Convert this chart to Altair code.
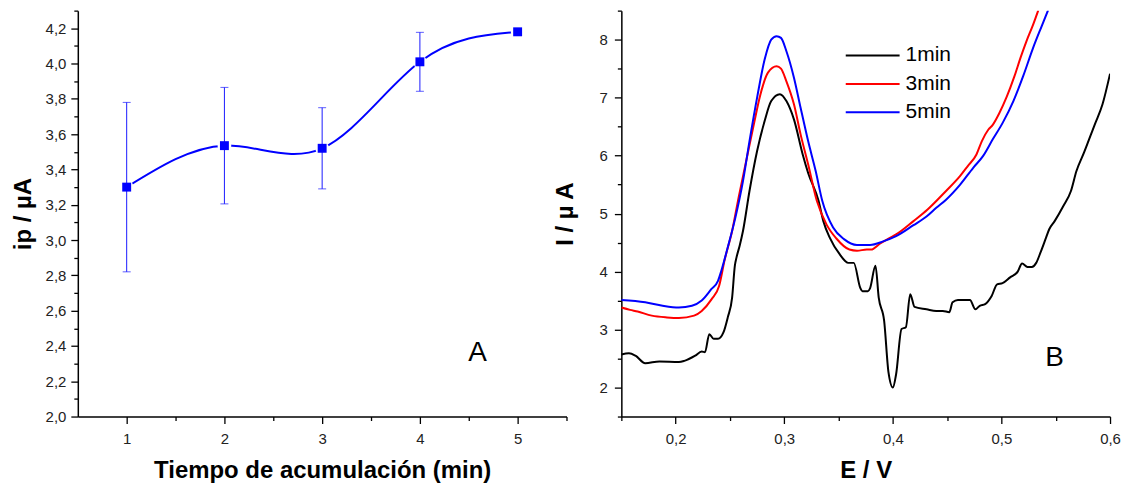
import altair as alt
import pandas as pd

FONT = "Liberation Sans"

# ---------------- Panel A data ----------------
t_min = [1, 2, 3, 4, 5]
ip_uA = [3.30, 3.535, 3.52, 4.01, 4.18]
ip_err = [0.48, 0.33, 0.23, 0.167, 0.0]

# ---------------- Panel B data ----------------
E_1min = [0.150, 0.157, 0.163, 0.172, 0.185, 0.203, 0.208, 0.218, 0.224, 0.227,
          0.231, 0.235, 0.239, 0.244, 0.248, 0.252, 0.2545, 0.256, 0.259, 0.262,
          0.268, 0.275, 0.282, 0.288, 0.296, 0.302, 0.309, 0.317, 0.322, 0.3316,
          0.336, 0.342, 0.351, 0.359, 0.364, 0.370, 0.372, 0.377, 0.379, 0.384,
          0.387, 0.392, 0.396, 0.400, 0.403, 0.408, 0.412, 0.416, 0.420, 0.431,
          0.440, 0.446, 0.452, 0.455, 0.460, 0.471, 0.476, 0.480, 0.485, 0.491,
          0.496, 0.501, 0.508, 0.515, 0.519, 0.524, 0.528, 0.532, 0.536, 0.541,
          0.544, 0.549, 0.557, 0.564, 0.569, 0.576, 0.586, 0.593, 0.600]
I_1min = [2.57, 2.59, 2.55, 2.42, 2.45, 2.44, 2.46, 2.55, 2.62, 2.61,
          2.92, 2.84, 2.84, 2.95, 3.21, 3.55, 4.10, 4.24, 4.45, 4.70,
          5.39, 6.08, 6.60, 6.94, 7.06, 6.94, 6.62, 6.02, 5.70, 5.22,
          4.87, 4.58, 4.30, 4.15, 4.15, 3.72, 3.66, 3.66, 3.71, 4.10,
          3.55, 3.15, 2.26, 2.00, 2.23, 3.01, 3.04, 3.61, 3.39, 3.35,
          3.32, 3.32, 3.30, 3.47, 3.51, 3.51, 3.35, 3.41, 3.44, 3.58,
          3.78, 3.80, 3.90, 4.00, 4.14, 4.08, 4.08, 4.15, 4.33, 4.58,
          4.73, 4.87, 5.13, 5.39, 5.73, 6.05, 6.54, 6.88, 7.41]

E_3min = [0.150, 0.158, 0.165, 0.178, 0.192, 0.203, 0.217, 0.224, 0.233, 0.240,
          0.245, 0.252, 0.258, 0.265, 0.272, 0.278, 0.285, 0.293, 0.297, 0.302,
          0.309, 0.315, 0.322, 0.330, 0.339, 0.348, 0.360, 0.367, 0.376, 0.380,
          0.388, 0.396, 0.403, 0.419, 0.432, 0.449, 0.462, 0.469, 0.477, 0.482,
          0.488, 0.492, 0.498, 0.505, 0.512, 0.518, 0.523, 0.529, 0.534]
I_3min = [3.38, 3.34, 3.31, 3.24, 3.21, 3.20, 3.24, 3.32, 3.52, 3.75,
          4.19, 4.70, 5.28, 5.91, 6.54, 7.05, 7.43, 7.54, 7.50, 7.28,
          6.88, 6.37, 5.85, 5.22, 4.81, 4.57, 4.38, 4.36, 4.38, 4.38,
          4.48, 4.57, 4.64, 4.87, 5.07, 5.39, 5.65, 5.82, 6.02, 6.25,
          6.45, 6.53, 6.73, 7.02, 7.37, 7.71, 7.97, 8.25, 8.51]

E_5min = [0.150, 0.172, 0.188, 0.203, 0.215, 0.224, 0.233, 0.239, 0.242, 0.248,
          0.255, 0.262, 0.268, 0.275, 0.282, 0.288, 0.293, 0.297, 0.302, 0.309,
          0.315, 0.322, 0.329, 0.335, 0.345, 0.355, 0.367, 0.379, 0.391, 0.403,
          0.419, 0.431, 0.440, 0.449, 0.462, 0.474, 0.483, 0.492, 0.501, 0.511,
          0.520, 0.529, 0.537, 0.543]
I_5min = [3.51, 3.47, 3.41, 3.38, 3.41, 3.50, 3.70, 3.84, 4.01, 4.42,
          4.93, 5.56, 6.25, 7.00, 7.66, 8.00, 8.06, 8.03, 7.80, 7.34,
          6.83, 6.25, 5.73, 5.22, 4.76, 4.56, 4.46, 4.46, 4.52, 4.61,
          4.80, 4.95, 5.10, 5.24, 5.50, 5.79, 5.99, 6.28, 6.56, 6.94,
          7.37, 7.85, 8.23, 8.51]

series_names = ["1min", "3min", "5min"]
series_colors = ["#000000", "#ff0000", "#0000ff"]

# panel letters (in data units of each panel)
panel_letters = ["A", "B"]
letter_x = [4.59, 0.549]
letter_y = [2.36, 2.51]

# axis tick values (major + minor)
a_x_ticks = [1 + 0.5 * i for i in range(10)]
a_y_ticks = [round(2.0 + 0.1 * i, 1) for i in range(24)]
b_x_ticks = [round(0.15 + 0.05 * i, 2) for i in range(10)]
b_y_ticks = [1.5 + 0.5 * i for i in range(15)]

# ---------------- tables ----------------
dfA = pd.DataFrame({"t": t_min, "ip": ip_uA, "err": ip_err})
dfA["lo"] = dfA["ip"] - dfA["err"]
dfA["hi"] = dfA["ip"] + dfA["err"]

rows = []
for name, es, ii in zip(series_names, [E_1min, E_3min, E_5min], [I_1min, I_3min, I_5min]):
    for e, i in zip(es, ii):
        rows.append({"E": e, "I": i, "serie": name})
dfB = pd.DataFrame(rows)

dfLA = pd.DataFrame({"x": [letter_x[0]], "y": [letter_y[0]], "txt": [panel_letters[0]]})
dfLB = pd.DataFrame({"x": [letter_x[1]], "y": [letter_y[1]], "txt": [panel_letters[1]]})


def make_axis(title, values, major_test, label_expr, label_padding, title_padding):
    return alt.Axis(
        title=title, values=values, labelExpr=label_expr,
        tickSize={"condition": {"test": major_test, "value": 7}, "value": 4},
        tickColor="#000000", tickWidth=1.3,
        domainColor="#000000", domainWidth=1.5,
        labelFont=FONT,
        labelFontSize={"condition": {"test": major_test, "value": 15}, "value": 0},
        labelColor="#222222",
        labelPadding=label_padding, labelOverlap=False, labelFlush=False, labelBound=False,
        titleFont=FONT, titleFontSize=24, titleFontWeight="bold", titleColor="#000000",
        titlePadding=title_padding, grid=False,
    )


axA_x = make_axis("Tiempo de acumulación (min)", a_x_ticks, "datum.value % 1 == 0",
                  "datum.value % 1 == 0 ? format(datum.value, 'd') : ''", 8, 12)
axA_y = make_axis("ip / µA", a_y_ticks, "round(datum.value*10) % 2 == 0",
                  "round(datum.value*10) % 2 == 0 ? replace(format(datum.value, '.1f'), '.', ',') : ''",
                  5, 10)
axB_x = make_axis("E / V", b_x_ticks, "round(datum.value*100) % 10 == 0",
                  "round(datum.value*100) % 10 == 0 ? replace(format(datum.value, '.1f'), '.', ',') : ''",
                  8, 12)
axB_y = make_axis("I / µ A", b_y_ticks, "datum.value % 1 == 0",
                  "datum.value % 1 == 0 ? format(datum.value, 'd') : ''", 7, 22)

scA_x = alt.Scale(domain=[0.5, 5.5], nice=False, zero=False)
scA_y = alt.Scale(domain=[2.0, 4.3], nice=False, zero=False)
scB_x = alt.Scale(domain=[0.15, 0.6], nice=False, zero=False)
scB_y = alt.Scale(domain=[1.5, 8.5], nice=False, zero=False)

xA = alt.X("t:Q", scale=scA_x, axis=axA_x)
yA = alt.Y("ip:Q", scale=scA_y, axis=axA_y)

baseA = alt.Chart(dfA)
lineA = baseA.mark_line(interpolate="natural", color="#0000ff", strokeWidth=2).encode(x=xA, y=yA)
haloA = baseA.mark_point(shape="circle", filled=True, color="#ffffff", size=190, opacity=1).encode(x=xA, y=yA)
errA = baseA.transform_filter("datum.err > 0").mark_errorbar(
    color="#1a1aff", thickness=1, ticks={"size": 8, "thickness": 1}
).encode(
    x=alt.X("t:Q", scale=scA_x, axis=axA_x),
    y=alt.Y("lo:Q", scale=scA_y, axis=axA_y),
    y2="hi:Q",
)
ptsA = baseA.mark_point(shape="square", filled=True, color="#0000ff", size=80, opacity=1).encode(x=xA, y=yA)
letA = alt.Chart(dfLA).mark_text(font=FONT, fontSize=28, color="#000000").encode(
    x=alt.X("x:Q", scale=scA_x, axis=axA_x),
    y=alt.Y("y:Q", scale=scA_y, axis=axA_y),
    text="txt:N",
)
left = alt.layer(lineA, haloA, errA, ptsA, letA).properties(width=490, height=407)

xB = alt.X("E:Q", scale=scB_x, axis=axB_x)
yB = alt.Y("I:Q", scale=scB_y, axis=axB_y)
linesB = alt.Chart(dfB).mark_line(strokeWidth=2, clip=True, interpolate="monotone").encode(
    x=xB, y=yB,
    color=alt.Color("serie:N", scale=alt.Scale(domain=series_names, range=series_colors),
                    legend=alt.Legend(orient="none", legendX=224, legendY=34, title=None,
                                      symbolType="M-2.7,0L2.7,0", symbolSize=400,
                                      symbolStrokeWidth=2, symbolOffset=17,
                                      labelFont=FONT, labelFontSize=21, labelColor="#000000",
                                      labelOffset=22, rowPadding=7.5, padding=0)),
)
letB = alt.Chart(dfLB).mark_text(font=FONT, fontSize=28, color="#000000").encode(
    x=alt.X("x:Q", scale=scB_x, axis=axB_x),
    y=alt.Y("y:Q", scale=scB_y, axis=axB_y),
    text="txt:N",
)
right = alt.layer(linesB, letB).properties(width=490, height=407)

chart = (
    alt.hconcat(left, right, spacing=55, bounds="flush")
    .resolve_legend(color="independent")
    .properties(padding={"left": 3, "top": 1, "right": 2, "bottom": 0}, background="#ffffff")
    .configure_view(stroke=None)
)

chart.save("out.html", embed_options={"renderer": "svg", "actions": False})
